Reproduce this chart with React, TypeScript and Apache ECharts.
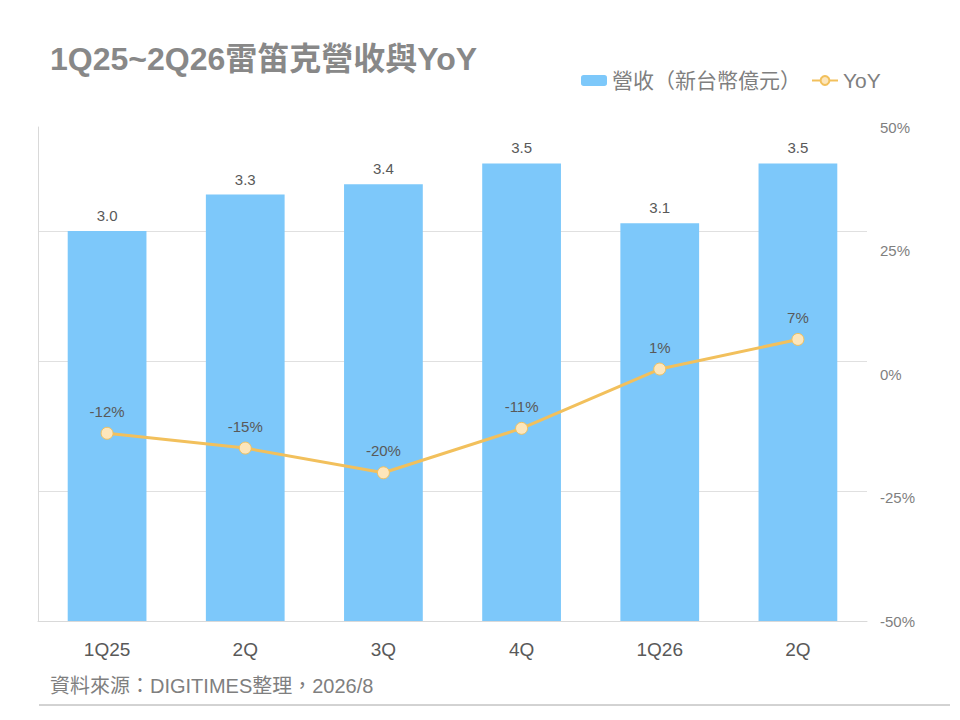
import React, { useEffect, useRef } from 'react';
import * as echarts from 'echarts';

const categories = ['1Q25', '2Q', '3Q', '4Q', '1Q26', '2Q'];
const revenue = [3.0, 3.28, 3.36, 3.52, 3.06, 3.52];
const yoy = [-12, -15, -20, -11, 1, 7];

const revenueName = '營收（新台幣億元）';
const yoyName = 'YoY';

const FONT = '"Liberation Sans", Arial, "Noto Sans CJK TC", sans-serif';
const GREY = '#7f7f7f';
const DARK = '#595959';

const App: React.FC = () => {
  const chartRef = useRef<HTMLDivElement>(null);

  useEffect(() => {
    if (!chartRef.current) return;
    document.body.style.margin = '0';
    const chart = echarts.init(chartRef.current, undefined, { renderer: 'svg' });

    const option: any = {
      animation: false,
      backgroundColor: '#ffffff',
      textStyle: { fontFamily: FONT },
      title: {
        text: '1Q25~2Q26雷笛克營收與YoY',
        left: 45,
        top: 38,
        textStyle: { fontSize: 32, fontWeight: 'bold', color: '#888888', fontFamily: FONT }
      },
      legend: {
        data: [revenueName, yoyName],
        left: 576,
        top: 65,
        itemWidth: 26,
        itemHeight: 11,
        itemGap: 10,
        textStyle: { fontSize: 21, color: GREY, fontFamily: FONT }
      },
      grid: { left: 38, right: 93, top: 127, bottom: 99 },
      xAxis: {
        type: 'category',
        data: categories,
        axisLine: { lineStyle: { color: '#d9d9d9', width: 1 } },
        axisTick: { show: false },
        axisLabel: { fontSize: 19, color: DARK, margin: 19 }
      },
      yAxis: [
        {
          type: 'value',
          min: 0,
          max: 3.8,
          interval: 1,
          axisLine: { show: true, lineStyle: { color: '#d9d9d9' } },
          axisTick: { show: false },
          axisLabel: { show: false },
          splitLine: { show: true, showMaxLine: false, lineStyle: { color: '#e0e0e0' } }
        },
        {
          type: 'value',
          min: -50,
          max: 50,
          interval: 25,
          position: 'right',
          axisLine: { show: false },
          axisTick: { show: false },
          splitLine: { show: false },
          axisLabel: { formatter: '{value}%', fontSize: 15, color: GREY, margin: 13 }
        }
      ],
      series: [
        {
          name: revenueName,
          type: 'bar',
          data: revenue,
          barWidth: '57%',
          itemStyle: { color: '#7dc8fa' },
          label: {
            show: true,
            position: 'top',
            distance: 8,
            fontSize: 15,
            color: DARK,
            formatter: (p: any) => Number(p.value).toFixed(1)
          }
        },
        {
          name: yoyName,
          type: 'line',
          yAxisIndex: 1,
          data: yoy,
          symbol: 'circle',
          symbolSize: 12,
          lineStyle: { color: '#f2c05c', width: 3 },
          itemStyle: { color: '#fde6bb', borderColor: '#f2c05c', borderWidth: 1 },
          label: {
            show: true,
            position: 'top',
            distance: 8,
            fontSize: 15,
            color: DARK,
            formatter: (p: any) => `${p.value}%`
          }
        }
      ],
      graphic: [
        {
          type: 'text',
          left: 50,
          top: 676,
          style: {
            text: '資料來源：DIGITIMES整理，2026/8',
            fontSize: 20,
            fill: GREY,
            fontFamily: FONT
          }
        },
        {
          type: 'line',
          shape: { x1: 39, y1: 705, x2: 950, y2: 705 },
          style: { stroke: '#a6a6a6', lineWidth: 1 }
        }
      ]
    };

    chart.setOption(option);
    return () => {
      chart.dispose();
    };
  }, []);

  return <div ref={chartRef} style={{ width: 960, height: 720 }} />;
};

export default App;
